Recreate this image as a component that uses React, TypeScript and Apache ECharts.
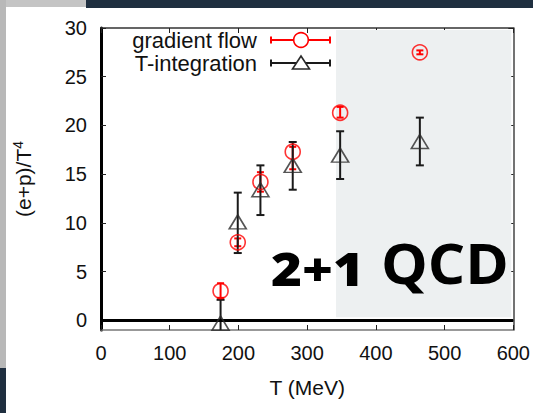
import React, { useEffect, useRef } from "react";
import * as echarts from "echarts";

// Temperatures (MeV) of the ensembles
const temps = [174, 199, 232, 279, 348, 464];

// (e+p)/T^4 from the gradient flow method
const gfValue = [3.0, 8.0, 14.2, 17.3, 21.3, 27.5];
const gfLow = [2.3, 7.6, 13.2, 15.5, 20.8, 27.3];
const gfHigh = [3.8, 8.4, 15.2, 17.8, 21.9, 27.7];

// (e+p)/T^4 from T-integration
const tiValue = [-0.3, 10.1, 13.4, 15.9, 16.95, 18.35];
const tiLow = [-2.7, 6.9, 10.8, 13.4, 14.5, 15.9];
const tiHigh = [2.1, 13.1, 15.9, 18.3, 19.4, 20.8];

const yTicks = [0, 5, 10, 15, 20, 25, 30];
const shadeFrom = 342;
const shadeTo = 597;

const FONT = "'Liberation Sans', Arial, Helvetica, sans-serif";
const BIG_FONT = "'Open Sans', 'Noto Sans', sans-serif";
const RED = "#ff0000";
const BLACK = "#1a1a1a";

function errorBarSeries(name: string, lo: number[], hi: number[], color: string, cap: number) {
  return {
    name,
    type: "custom",
    clip: true,
    z: 4,
    data: temps.map((t, i) => [t, lo[i], hi[i]]),
    encode: { x: 0, y: [1, 2] },
    renderItem: (_params: any, api: any) => {
      const x = api.value(0);
      const a = api.coord([x, api.value(1)]);
      const b = api.coord([x, api.value(2)]);
      const style = { stroke: color, lineWidth: 2 };
      return {
        type: "group",
        children: [
          { type: "line", shape: { x1: a[0], y1: a[1], x2: b[0], y2: b[1] }, style },
          { type: "line", shape: { x1: a[0] - cap, y1: a[1], x2: a[0] + cap, y2: a[1] }, style },
          { type: "line", shape: { x1: b[0] - cap, y1: b[1], x2: b[0] + cap, y2: b[1] }, style },
        ],
      };
    },
  };
}

export default function App() {
  const ref = useRef<HTMLDivElement>(null);

  useEffect(() => {
    if (!ref.current) return;
    const chart = echarts.init(ref.current, null, { renderer: "svg" });

    const axisTextStyle = { fontFamily: FONT, fontSize: 20, color: "#111" };

    chart.setOption({
      animation: false,
      backgroundColor: "#ffffff",
      grid: { left: 101, right: 17, top: 28, bottom: 83 },
      xAxis: [
        {
          type: "value",
          min: 0,
          max: 600,
          interval: 100,
          name: "T (MeV)",
          nameLocation: "middle",
          nameGap: 47,
          nameTextStyle: { fontFamily: FONT, fontSize: 21, color: "#111" },
          axisLine: { show: true, onZero: false, lineStyle: { color: "#777", width: 1.5 } },
          axisTick: { show: true, inside: true, length: 5, lineStyle: { color: "#222", width: 1 } },
          axisLabel: { ...axisTextStyle, margin: 13 },
          splitLine: { show: false },
        },
        {
          type: "value",
          position: "top",
          min: 0,
          max: 600,
          interval: 100,
          axisLine: { show: true, onZero: false, lineStyle: { color: "#333", width: 1.5 } },
          axisTick: { show: true, inside: true, length: 5, lineStyle: { color: "#222", width: 1 } },
          axisLabel: { show: false },
          splitLine: { show: false },
        },
      ],
      yAxis: [
        {
          type: "value",
          min: -1,
          max: 30,
          name: "(e+p)/T{sup|4}",
          nameLocation: "middle",
          nameGap: 65,
          nameTextStyle: {
            fontFamily: FONT,
            fontSize: 21,
            color: "#111",
            rich: {
              sup: { fontFamily: FONT, fontSize: 14, color: "#111", padding: [0, 0, 11, 0] },
            },
          },
          axisLine: { show: true, onZero: false, lineStyle: { color: "#000", width: 3 } },
          axisTick: { show: true, inside: true, length: 5, customValues: yTicks, lineStyle: { color: "#222", width: 1 } },
          axisLabel: { ...axisTextStyle, margin: 14, customValues: yTicks },
          splitLine: { show: false },
        },
        {
          type: "value",
          position: "right",
          min: -1,
          max: 30,
          axisLine: { show: true, onZero: false, lineStyle: { color: "#444", width: 1.5 } },
          axisTick: { show: true, inside: true, length: 5, customValues: yTicks, lineStyle: { color: "#222", width: 1 } },
          axisLabel: { show: false },
          splitLine: { show: false },
        },
      ],
      series: [
        {
          name: "region",
          type: "line",
          data: [],
          silent: true,
          z: 1,
          markArea: {
            silent: true,
            itemStyle: { color: "#edf0f1" },
            data: [[{ xAxis: shadeFrom, yAxis: 0.3 }, { xAxis: shadeTo, yAxis: 29.8 }]],
          },
          markLine: {
            silent: true,
            symbol: "none",
            label: { show: false },
            lineStyle: { color: "#000", width: 3, type: "solid" },
            data: [{ yAxis: 0 }],
          },
        },
        errorBarSeries("gradient flow err", gfLow, gfHigh, RED, 3.5),
        errorBarSeries("T-integration err", tiLow, tiHigh, BLACK, 4),
        {
          name: "gradient flow",
          type: "scatter",
          z: 5,
          symbol: "circle",
          symbolSize: 15,
          itemStyle: { color: "transparent", borderColor: RED, borderWidth: 1.6 },
          data: temps.map((t, i) => [t, gfValue[i]]),
        },
        {
          name: "T-integration",
          type: "scatter",
          z: 5,
          symbol: "triangle",
          symbolSize: [17, 14],
          itemStyle: { color: "transparent", borderColor: "#2a2a2a", borderWidth: 1.6 },
          data: temps.map((t, i) => [t, tiValue[i]]),
        },
      ],
      graphic: [
        // window chrome around the figure
        { type: "rect", shape: { x: 0, y: 0, width: 86, height: 7 }, style: { fill: "#c4c4c4" }, silent: true },
        { type: "rect", shape: { x: 86, y: 0, width: 447, height: 8 }, style: { fill: "#1f2f40" }, silent: true },
        { type: "rect", shape: { x: 0, y: 0, width: 6, height: 368 }, style: { fill: "#b8b8b8" }, silent: true },
        { type: "rect", shape: { x: 0, y: 368, width: 6, height: 45 }, style: { fill: "#1f2f40" }, silent: true },
        // legend
        {
          type: "text",
          x: 257,
          y: 40,
          style: { text: "gradient flow", fontFamily: FONT, fontSize: 22, fill: "#111", align: "right", verticalAlign: "middle" },
        },
        { type: "line", shape: { x1: 271, y1: 40, x2: 330, y2: 40 }, style: { stroke: RED, lineWidth: 2 } },
        { type: "line", shape: { x1: 271, y1: 36.5, x2: 271, y2: 43.5 }, style: { stroke: RED, lineWidth: 2 } },
        { type: "line", shape: { x1: 330, y1: 36.5, x2: 330, y2: 43.5 }, style: { stroke: RED, lineWidth: 2 } },
        { type: "circle", shape: { cx: 301, cy: 40, r: 7.3 }, style: { stroke: RED, fill: "#fff", lineWidth: 1.6 } },
        {
          type: "text",
          x: 257,
          y: 63,
          style: { text: "T-integration", fontFamily: FONT, fontSize: 22, fill: "#111", align: "right", verticalAlign: "middle" },
        },
        { type: "line", shape: { x1: 271, y1: 63, x2: 330, y2: 63 }, style: { stroke: BLACK, lineWidth: 2 } },
        { type: "line", shape: { x1: 271, y1: 59.5, x2: 271, y2: 66.5 }, style: { stroke: BLACK, lineWidth: 2 } },
        { type: "line", shape: { x1: 330, y1: 59.5, x2: 330, y2: 66.5 }, style: { stroke: BLACK, lineWidth: 2 } },
        {
          type: "polygon",
          shape: { points: [[292.5, 69], [309.5, 69], [301, 56]] },
          style: { stroke: "#2a2a2a", fill: "#fff", lineWidth: 1.6 },
        },
        // annotation
        {
          type: "text",
          x: 271,
          y: 268,
          z: 10,
          scaleX: 1.15,
          style: {
            text: "2+1",
            fontFamily: BIG_FONT,
            fontWeight: 800,
            fontSize: 46,
            fill: "#000",
            verticalAlign: "middle",
          },
        },
        {
          type: "text",
          x: 381,
          y: 263,
          z: 10,
          scaleX: 1.07,
          style: {
            text: "QCD",
            fontFamily: BIG_FONT,
            fontWeight: "bold",
            fontSize: 55,
            fill: "#000",
            verticalAlign: "middle",
          },
        },
      ],
    });

    return () => chart.dispose();
  }, []);

  return (
    <div
      ref={ref}
      style={{ position: "fixed", left: 0, top: 0, width: 533, height: 413, background: "#fff" }}
    />
  );
}
